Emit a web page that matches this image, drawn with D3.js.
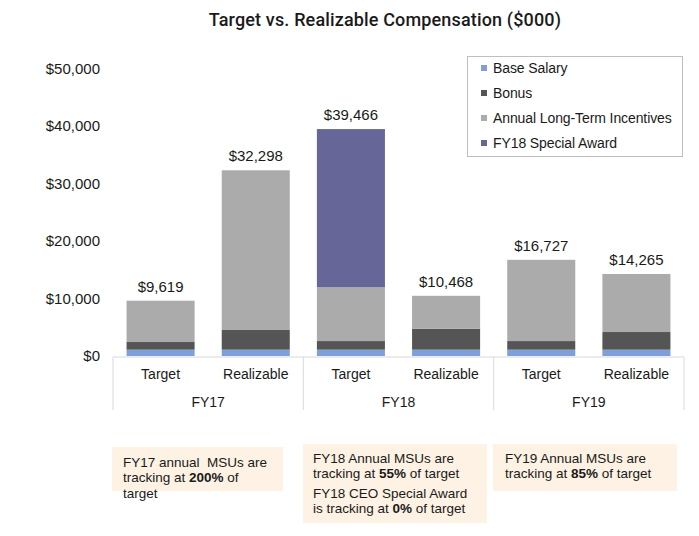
<!DOCTYPE html>
<html><head><meta charset="utf-8">
<script src="https://cdn.jsdelivr.net/npm/d3@7"></script>
<style>
body{margin:0;background:#fff;}
svg{display:block;}
text{font-family:"Liberation Sans",Arial,sans-serif;fill:#1a1a1a;white-space:pre;}
</style></head>
<body><svg id="chart" width="699" height="536"></svg>
<script>
const categories = ["Target","Realizable","Target","Realizable","Target","Realizable"];
const groups = ["FY17","FY17","FY18","FY18","FY19","FY19"];
const fiscalYears = ["FY17","FY18","FY19"];
const baseSalary = [1100,1100,1100,1100,1100,1100];
const bonus = [1330,3420,1500,3650,1500,3070];
const annualLTI = [7189,27778,9350,5718,14127,10095];
const specialAward = [0,0,27516,0,0,0];
const totals = [9619,32298,39466,10468,16727,14265];
const yTicks = [0,10000,20000,30000,40000,50000];
const seriesNames = ["Base Salary","Bonus","Annual Long-Term Incentives","FY18 Special Award"];
const colors = ["#7f9fd9","#555555","#ababab","#676699"];
const notes = [
  [[["FY17 annual  MSUs are",false]],[["tracking at ",false],["200%",true],[" of",false]],[["target",false]]],
  [[["FY18 Annual MSUs are",false]],[["tracking at ",false],["55%",true],[" of target",false]],[["FY18 CEO Special Award",false]],[["is tracking at ",false],["0%",true],[" of target",false]]],
  [[["FY19 Annual MSUs are",false]],[["tracking at ",false],["85%",true],[" of target",false]]]
];

const svg = d3.select("#chart");
const plotLeft = 113, plotRight = 684, plotTop = 68.5, plotBottom = 356;

const x = d3.scaleBand().domain(d3.range(categories.length)).range([plotLeft,plotRight]).paddingInner(0.285).paddingOuter(0.1425);
const y = d3.scaleLinear().domain([0,50000]).range([plotBottom,plotTop]);

// title
svg.append("text").attr("x",385).attr("y",26).attr("text-anchor","middle")
  .style("font-family","Roboto, sans-serif").style("font-weight","500").style("font-size","18px")
  .style("letter-spacing","0.15px")
  .text("Target vs. Realizable Compensation ($000)");

// y axis
const yAxis = d3.axisLeft(y).tickValues(yTicks).tickSize(0).tickPadding(0)
  .tickFormat(d=>"$"+d3.format(",")(d));
const ya = svg.append("g").attr("transform","translate(100,0)").call(yAxis);
ya.select(".domain").remove();
ya.selectAll("text").style("font-family","Liberation Sans, Arial, sans-serif").style("font-size","15px").attr("fill","#1a1a1a");

// stacked bars
const rows = categories.map((c,i)=>({i, b:baseSalary[i], bo:bonus[i], l:annualLTI[i], s:specialAward[i]}));
const stack = d3.stack().keys(["b","bo","l","s"])(rows);
svg.append("g").selectAll("g").data(stack).join("g").attr("fill",(d,k)=>colors[k])
  .selectAll("rect").data(d=>d).join("rect")
  .attr("x",d=>x(d.data.i)).attr("width",x.bandwidth())
  .attr("y",d=>y(d[1])).attr("height",d=>y(d[0])-y(d[1]));

// total labels
svg.append("g").selectAll("text").data(totals).join("text")
  .attr("x",(d,i)=>x(i)+x.bandwidth()/2).attr("y",(d,i)=>y(d)-9)
  .attr("text-anchor","middle").style("font-size","15px")
  .text(d=>"$"+d3.format(",")(d));

// x axis lines
const grid = "#d9d9d9";
svg.append("line").attr("x1",plotLeft).attr("x2",plotRight).attr("y1",357).attr("y2",357).attr("stroke",grid);
const sepX = [plotLeft, (x(1)+x.bandwidth()+x(2))/2, (x(3)+x.bandwidth()+x(4))/2, plotRight];
svg.append("g").selectAll("line").data(sepX).join("line")
  .attr("x1",d=>d).attr("x2",d=>d).attr("y1",357).attr("y2",410).attr("stroke",grid);

// category labels
svg.append("g").selectAll("text").data(categories).join("text")
  .attr("x",(d,i)=>x(i)+x.bandwidth()/2).attr("y",379).attr("text-anchor","middle")
  .style("font-size","14px").text(d=>d);
svg.append("g").selectAll("text").data(fiscalYears).join("text")
  .attr("x",(d,k)=>(sepX[k]+sepX[k+1])/2).attr("y",407).attr("text-anchor","middle")
  .style("font-size","14px").text(d=>d);

// legend
const lg = svg.append("g");
lg.append("rect").attr("x",467.5).attr("y",56.5).attr("width",215).attr("height",100)
  .attr("fill","#fff").attr("stroke","#bfbfbf");
seriesNames.forEach((n,k)=>{
  const yy = 68 + k*25;
  lg.append("rect").attr("x",481).attr("y",yy-3).attr("width",6).attr("height",6).attr("fill",colors[k]);
  lg.append("text").attr("x",493).attr("y",yy+5).style("font-size","14px").style("letter-spacing","-0.1px").text(n);
});

// note boxes
const boxes = [
  {x:112,y:447,w:171,h:44,tx:123,ty:467},
  {x:303,y:444,w:184,h:79,tx:313,ty:463},
  {x:493,y:444,w:184,h:47,tx:505,ty:463}
];
const lineGaps = [[0,15,31],[0,15,35,50],[0,15]];
boxes.forEach((b,k)=>{
  svg.append("rect").attr("x",b.x).attr("y",b.y).attr("width",b.w).attr("height",b.h).attr("fill","#fdf2e3");
  notes[k].forEach((line,j)=>{
    const t = svg.append("text").attr("x",b.tx).attr("y",b.ty+lineGaps[k][j]).style("font-size","13.5px");
    line.forEach(([s,bold])=>t.append("tspan").style("font-weight",bold?"bold":"normal").text(s));
  });
});
</script></body></html>
